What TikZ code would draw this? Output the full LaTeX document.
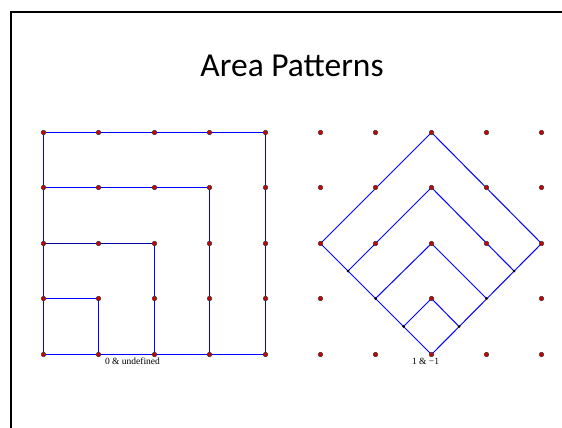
\documentclass[tikz,border=0pt]{standalone}
\usepackage{fontspec}
\setmainfont{Liberation Serif}
\newfontfamily\titlefont{Carlito}
\usetikzlibrary{calc}
\begin{document}
\begin{tikzpicture}[x=1pt,y=-1pt]
    % -- colour definitions --------------------------------------------------
    \definecolor{edgecolor}{RGB}{0,0,255}
    \definecolor{darkedge}{RGB}{0,0,165}
    \definecolor{dotcolor}{RGB}{205,0,0}
    \tikzset{
        edge/.style={edgecolor, line width=1pt},
        gridpt/.style={circle, draw=black!75, fill=dotcolor, inner sep=0pt,
            minimum size=4.6pt, line width=0.5pt},
        crosspt/.style={circle, fill=black, inner sep=0pt, minimum size=3pt},
        caption/.style={font=\fontsize{9.5}{11}\selectfont, inner sep=0pt},
    }
    \useasboundingbox (0,0) rectangle (562,428);

    % -- slide frame ---------------------------------------------------------
    \draw[line width=2pt] (11,428) -- (11,12.5) -- (562,12.5);

    % -- title ---------------------------------------------------------------
    \node[font=\titlefont\fontsize{33.5}{40}\selectfont, anchor=base, inner sep=0pt]
        (title) at (292,77) {Area Patterns};

    % -- grid points ---------------------------------------------------------
    \foreach \j/\y in {0/132.5,1/187.5,2/243.5,3/298.5,4/354.5} {
        \foreach \i/\x in {0/43.5,1/98.5,2/154.5,3/209.5,4/265.5} {
            \coordinate (L\i\j) at (\x,\y);
        }
        \foreach \i/\x in {0/320.5,1/375.5,2/431.5,3/486.5,4/541.5} {
            \coordinate (R\i\j) at (\x,\y);
        }
    }

    % -- left: nested squares ------------------------------------------------
    \draw[edge] (L00) -- (L40) -- (L44) -- (L04) -- cycle;
    \draw[edge] (L01) -- (L31) -- (L34);
    \draw[edge, darkedge] (L02) -- (L22);
    \draw[edge] (L22) -- (L24);
    \draw[edge] (L03) -- (L13) -- (L14);

    % -- right: nested chevrons in a diamond ---------------------------------
    \coordinate (X1l) at ($(R02)!0.5!(R13)$);
    \coordinate (X1r) at ($(R42)!0.5!(R33)$);
    \coordinate (X3l) at ($(R13)!0.5!(R24)$);
    \coordinate (X3r) at ($(R33)!0.5!(R24)$);
    \draw[edge] (R20) -- (R42) -- (R24) -- (R02) -- cycle;
    \draw[edge] (X1l) -- (R21) -- (X1r);
    \draw[edge] (R13) -- (R22) -- (R33);
    \draw[edge] (X3l) -- (R23) -- (X3r);

    % -- dots ----------------------------------------------------------------
    \foreach \i in {0,...,4} {
        \foreach \j in {0,...,4} {
            \node[gridpt] (dL\i\j) at (L\i\j) {};
        }
    }
    \foreach \p in {00,10,20,30,40,01,11,21,31,41,02,12,22,32,42,03,23,43,04,14,24,34,44} {
        \node[gridpt] (dR\p) at (R\p) {};
    }
    \foreach \p in {X1l,X1r,X3l,X3r,R13,R33} {
        \node[crosspt] (d\p) at (\p) {};
    }

    % -- captions ------------------------------------------------------------
    \node[caption] (capL) at (132.5,361) {0 \& undefined};
    \node[caption] (capR) at (425.5,361) {1 \& −1};
\end{tikzpicture}
\end{document}
